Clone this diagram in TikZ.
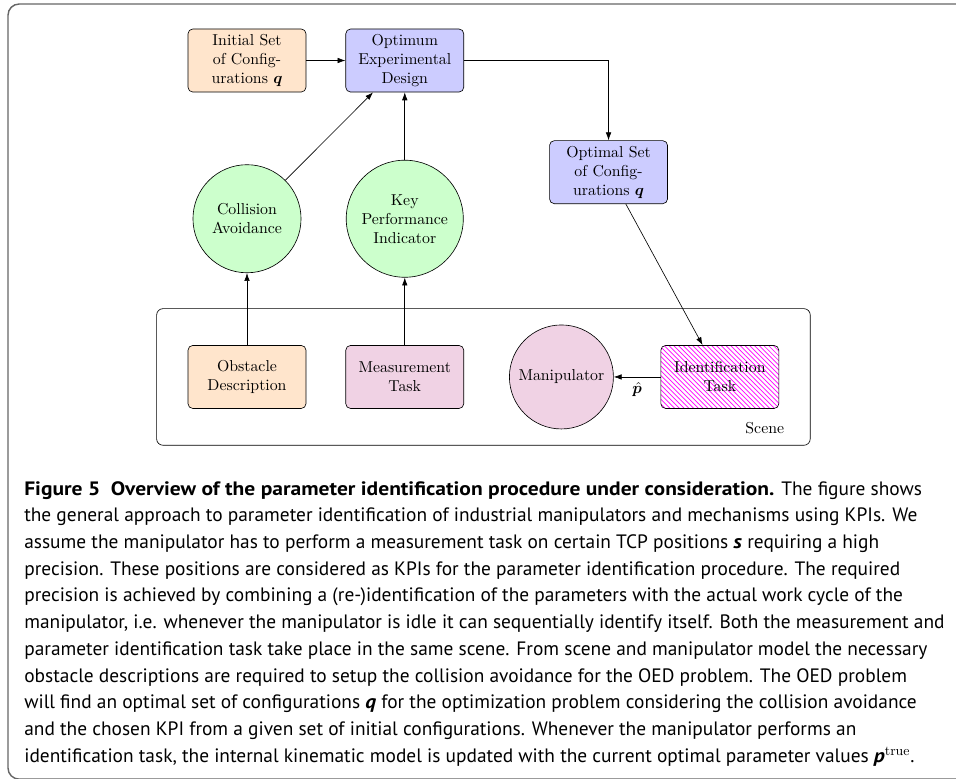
\documentclass[tikz,border=0pt]{standalone}
\usepackage{amsmath,amssymb,bm}
\usepackage{fontspec}
\newfontfamily\capfont{PT Sans}[BoldFeatures={FakeStretch=1.11},BoldItalicFeatures={FakeStretch=1.11}]
\usetikzlibrary{arrows.meta,positioning,calc,fit,patterns}
\definecolor{taskpink}{RGB}{240,210,228}

\begin{document}
\begin{tikzpicture}[
    ovbox/.style={draw=black,rounded corners=3pt,align=center,
        minimum width=2.62cm,minimum height=1.4cm,inner sep=2pt},
    ovcircle/.style={circle,draw=black,fill=green!20,align=center,inner sep=2pt},
    ovarrow/.style={-{Latex[length=5pt,width=3.5pt]},draw=black},
    ovscene/.style={draw=black,rounded corners=4pt,inner xsep=0.69cm,inner ysep=0.355cm},
    ovframe/.style={draw=black!60,line width=0.9pt,rounded corners=7pt},
    ovcaption/.style={font={\capfont\fontsize{12.25pt}{16.87pt}\selectfont},
        align=left,inner sep=0pt}
]
\useasboundingbox (-5.486,1.344) rectangle (15.747,-15.936);
% outer frame of the figure
\draw[ovframe] (16.5,1.255) -- (-5.308,1.255) -- (-5.308,-15.96) -- (16.5,-15.96);

\node[ovbox,fill=orange!20] (initial) at (0,0)
    {Initial Set\\of Config-\\urations \(\bm{q}\)};
\node[ovbox,fill=blue!20,right=8.7mm of initial] (oed)
    {Optimum\\Experimental\\Design};
\node[ovbox,fill=blue!20] (optimal) at (8.03,-2.48)
    {Optimal Set\\of Config-\\urations \(\bm{q}\)};
\node[ovcircle,minimum size=2.4cm,below=16mm of initial] (collision)
    {Collision\\Avoidance};
\node[ovcircle,minimum size=2.6cm] (kpi) at (oed |- collision)
    {Key\\Performance\\Indicator};
\node[ovbox,fill=orange!20,below=16mm of collision] (obstacle)
    {Obstacle\\Description};
\node[ovbox,fill=taskpink] (measurement) at (oed |- obstacle)
    {Measurement\\Task};
\node[ovcircle,fill=taskpink,minimum size=2.31cm,right=10mm of measurement] (manipulator)
    {Manipulator};
\node[ovbox,pattern=north west lines,pattern color=magenta,right=10.4mm of manipulator] (identification)
    {Identification\\Task};
\node[ovscene,fit=(obstacle)(manipulator)(identification)] (scene) {};
\node[anchor=south east,inner sep=0pt] (scenelabel) at ($(scene.south east)+(-0.58cm,0.26cm)$) {Scene};

\draw[ovarrow] (initial) -- (oed);
\draw[ovarrow] (oed.east) -| (optimal.north);
\draw[ovarrow] (collision) -- (oed);
\draw[ovarrow] (kpi) -- (oed);
\draw[ovarrow] (obstacle) -- (collision);
\draw[ovarrow] (measurement) -- (kpi);
\draw[ovarrow] (optimal) -- (identification);
\draw[ovarrow] (identification) -- node[below] {\(\hat{\bm{p}}\)} (manipulator);

% caption below the figure
\node[ovcaption,anchor=base west] (caption) at (-4.953,-15.582)
    {\textbf{Figure 5\hspace{0.55em}Overview of the parameter identification procedure under consideration.} The figure shows\\
    the general approach to parameter identification of industrial manipulators and mechanisms using KPIs. We\\
    assume the manipulator has to perform a measurement task on certain TCP positions \textbf{\textit{s}} requiring a high\\
    precision. These positions are considered as KPIs for the parameter identification procedure. The required\\
    precision is achieved by combining a (re-)identification of the parameters with the actual work cycle of the\\
    manipulator, i.e. whenever the manipulator is idle it can sequentially identify itself. Both the measurement and\\
    parameter identification task take place in the same scene. From scene and manipulator model the necessary\\
    obstacle descriptions are required to setup the collision avoidance for the OED problem. The OED problem\\
    will find an optimal set of configurations \textbf{\textit{q}} for the optimization problem considering the collision avoidance\\
    and the chosen KPI from a given set of initial configurations. Whenever the manipulator performs an\\
    identification task, the internal kinematic model is updated with the current optimal parameter values \textbf{\textit{p}}\(^{\mathrm{true}}\).};
\end{tikzpicture}
\end{document}
